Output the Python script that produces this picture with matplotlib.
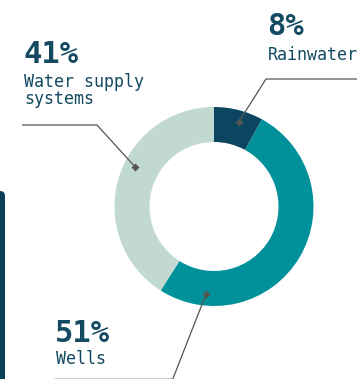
import numpy as np
import matplotlib
matplotlib.use("Agg")
import matplotlib.pyplot as plt
from matplotlib.patches import FancyBboxPatch

# ---- data ----
categories = ["Rainwater", "Wells", "Water supply\nsystems"]
values = [8, 51, 41]
pct_labels = ["8%", "51%", "41%"]
slice_colors = ["#0b4560", "#00919a", "#c1d9d0"]

W, H = 363, 379
fig = plt.figure(figsize=(W / 100, H / 100), dpi=100)
ax = fig.add_axes([0, 0, 1, 1])

def py(y):  # pixel-from-top -> data y
    return H - y

cx, cy = 214, py(206.5)
R_out, R_in = 99.5, 64.5

ax.pie(values, colors=slice_colors, startangle=90, counterclock=False,
       center=(cx, cy), radius=R_out, frame=True,
       wedgeprops=dict(width=R_out - R_in, linewidth=0))
ax.set_xlim(0, W)
ax.set_ylim(0, H)
ax.set_aspect("equal")
ax.axis("off")

text_c = "#134a62"
line_c = "#555555"
mono = "DejaVu Sans Mono"

layout = {
    "Rainwater": dict(ang=16.3, tx=267, pb=35, lb=60, path=[(357, 79), (266, 79)]),
    "Wells": dict(ang=185.2, tx=55, pb=342, lb=364, path=[(172, 381)]),
    "Water supply\nsystems": dict(ang=296.6, tx=23, pb=63, lb=87, path=[(22, 125), (97, 125)]),
}
r_mark = 88
line_gap = 16.5

for cat, pct in zip(categories, pct_labels):
    L = layout[cat]
    a = np.deg2rad(L["ang"])
    mx, my = cx + r_mark * np.sin(a), cy + r_mark * np.cos(a)
    pts = [(x, py(y)) for x, y in L["path"]] + [(mx, my)]
    xs, ys = zip(*pts)
    ax.plot(xs, ys, color=line_c, lw=0.9, solid_capstyle="butt", zorder=3)
    ax.plot([mx], [my], marker="D", ms=4.2, color=line_c, mec="none", zorder=4)
    ax.text(L["tx"], py(L["pb"]), pct, fontsize=22, fontweight="bold",
            family=mono, color=text_c, va="baseline", ha="left")
    for i, line in enumerate(cat.split("\n")):
        ax.text(L["tx"] + 1, py(L["lb"] + i * line_gap), line, fontsize=12,
                family=mono, color=text_c, va="baseline", ha="left")

# light bottom rule under "Wells"
ax.plot([55, 172], [py(378), py(378)], color="#cccccc", lw=0.8, zorder=2)

# dark left bar
bar = FancyBboxPatch((-12, -20), 17, py(191) + 20, boxstyle="round,pad=0,rounding_size=5",
                     fc="#0b3f55", ec="none", zorder=5)
ax.add_patch(bar)

fig.savefig("out.png", dpi=100)
